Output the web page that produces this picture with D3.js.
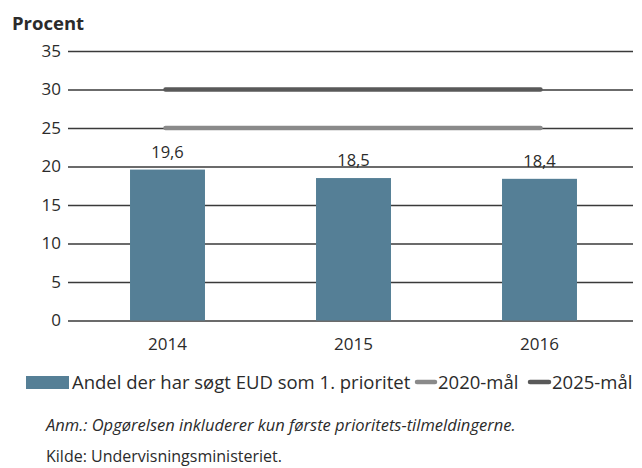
<!DOCTYPE html>
<html>
<head>
<meta charset="utf-8">
<script src="https://cdn.jsdelivr.net/npm/d3@7"></script>
<style>
  body { margin: 0; background: #fff; }
  svg text { font-family: "Open Sans", sans-serif; fill: #2b2b2b; }
</style>
</head>
<body>
<svg id="chart" width="642" height="468"></svg>
<script>
const years = ['2014', '2015', '2016'];
const shares = [19.6, 18.5, 18.4];
const shareLabels = ['19,6', '18,5', '18,4'];
const goal2020 = 25;
const goal2025 = 30;
const yTicks = [0, 5, 10, 15, 20, 25, 30, 35];
const legendLabels = ['Andel der har søgt EUD som 1. prioritet', '2020-mål', '2025-mål'];

const barColor = '#557f96';
const goal2020Color = '#8a8a8a';
const goal2025Color = '#595959';

const svg = d3.select('#chart');

const x = d3.scaleBand()
  .domain(years)
  .range([74.5, 632.5])
  .paddingInner(0.597)
  .paddingOuter(0.2985);

const y = d3.scaleLinear()
  .domain([0, 35])
  .range([320.5, 51]);

// title
svg.append('text')
  .attr('x', 12).attr('y', 30)
  .attr('font-size', 18.5).attr('font-weight', 700)
  .text('Procent');

// gridlines + y labels
const yAxis = d3.axisLeft(y).tickValues(yTicks).tickSize(-(633 - 68)).tickPadding(7);
const gy = svg.append('g').attr('transform', 'translate(68,0)').call(yAxis);
gy.select('.domain').remove();
gy.selectAll('.tick line').attr('stroke', '#3a3a3a').attr('stroke-width', 1.3);
gy.selectAll('.tick text').attr('font-size', 17).attr('font-family', '"Open Sans", sans-serif').attr('fill', '#2b2b2b');

// bars
svg.selectAll('.bar')
  .data(years)
  .enter()
  .append('rect')
  .attr('class', 'bar')
  .attr('x', d => x(d))
  .attr('y', (d, i) => y(shares[i]))
  .attr('width', x.bandwidth())
  .attr('height', (d, i) => y(0) - y(shares[i]))
  .attr('fill', barColor);

// value labels
svg.selectAll('.val')
  .data(years)
  .enter()
  .append('text')
  .attr('class', 'val')
  .attr('x', d => x(d) + x.bandwidth() / 2)
  .attr('y', (d, i) => y(shares[i]) - 12)
  .attr('text-anchor', 'middle')
  .attr('font-size', 16.5)
  .text((d, i) => shareLabels[i]);

// goal lines
const cx = d => x(d) + x.bandwidth() / 2;
const goals = [
  { v: goal2020, c: goal2020Color },
  { v: goal2025, c: goal2025Color }
];
svg.selectAll('.goal')
  .data(goals)
  .enter()
  .append('line')
  .attr('class', 'goal')
  .attr('x1', cx(years[0]) - 2)
  .attr('x2', cx(years[years.length - 1]) + 1)
  .attr('y1', d => y(d.v))
  .attr('y2', d => y(d.v))
  .attr('stroke', d => d.c)
  .attr('stroke-width', 4.5)
  .attr('stroke-linecap', 'round');

// x labels
const xAxis = d3.axisBottom(x).tickSize(0).tickPadding(17);
const gx = svg.append('g').attr('transform', `translate(0,${y(0)})`).call(xAxis);
gx.select('.domain').remove();
gx.selectAll('.tick text').attr('font-size', 17).attr('font-family', '"Open Sans", sans-serif').attr('fill', '#2b2b2b');

// legend
const lg = svg.append('g');
lg.append('rect').attr('x', 26).attr('y', 376).attr('width', 43).attr('height', 13).attr('fill', barColor);
lg.append('text').attr('x', 72).attr('y', 389).attr('font-size', 18.5).text(legendLabels[0]);
lg.append('line').attr('x1', 417).attr('x2', 435).attr('y1', 382).attr('y2', 382)
  .attr('stroke', goal2020Color).attr('stroke-width', 4.5).attr('stroke-linecap', 'round');
lg.append('text').attr('x', 438).attr('y', 389).attr('font-size', 18.5).text(legendLabels[1]);
lg.append('line').attr('x1', 530).attr('x2', 549).attr('y1', 382).attr('y2', 382)
  .attr('stroke', goal2025Color).attr('stroke-width', 4.5).attr('stroke-linecap', 'round');
lg.append('text').attr('x', 552).attr('y', 389).attr('font-size', 18.5).text(legendLabels[2]);

// notes
svg.append('text').attr('x', 46).attr('y', 431).attr('font-size', 16.5).attr('font-style', 'italic')
  .text('Anm.: Opgørelsen inkluderer kun første prioritets-tilmeldingerne.');
svg.append('text').attr('x', 46).attr('y', 462).attr('font-size', 16)
  .text('Kilde: Undervisningsministeriet.');
</script>
</body>
</html>
